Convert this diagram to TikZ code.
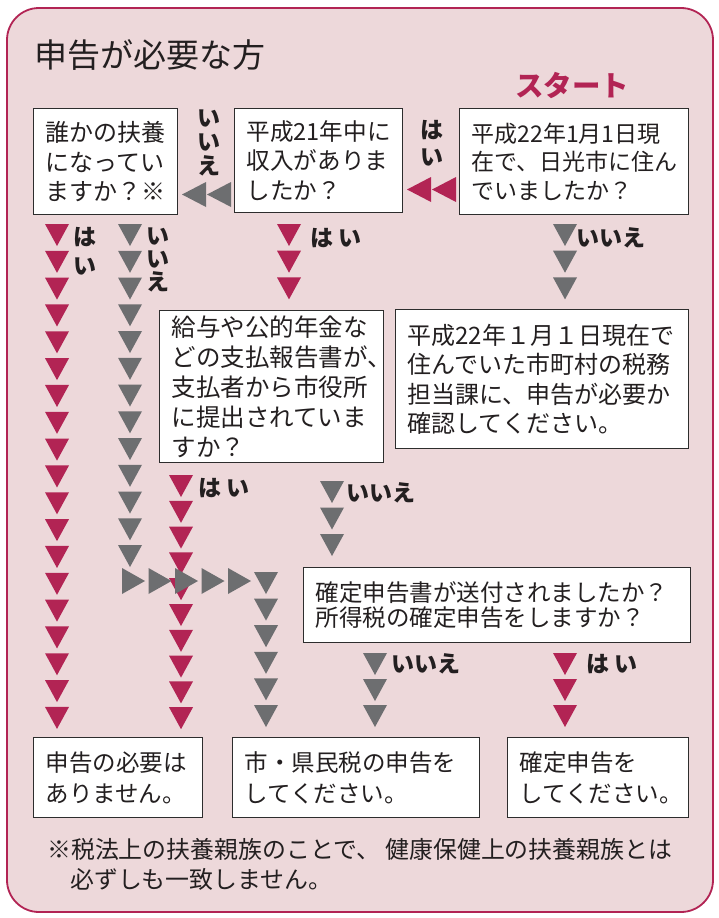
\documentclass[tikz,border=0pt]{standalone}
\usepackage{fontspec}
\setmainfont{Noto Sans CJK JP}
\definecolor{crim}{RGB}{178,36,84}
\definecolor{tgray}{RGB}{109,110,112}
\definecolor{bgpink}{RGB}{237,216,218}
\definecolor{txt}{RGB}{35,31,32}
\definecolor{boxline}{RGB}{45,45,45}
\newcommand\tridn[3]{\fill[#1] ({#2-12},{#3}) -- ++(24,0) -- ++(-12,22) -- cycle;}
\newcommand\trirt[3]{\fill[#1] ({#2},{#3-13}) -- ++(0,26) -- ++(23,-13) -- cycle;}
\newcommand\trilt[3]{\fill[#1] ({#2},{#3}) -- ++(24,-12.5) -- ++(0,25) -- cycle;}
\begin{document}
\begin{tikzpicture}[x=1pt,y=-1pt,
  box/.style={draw=boxline, line width=1.2pt, fill=white, anchor=north west, align=left,
    inner xsep=12pt, inner ysep=0pt, text=txt, font=\fontsize{24}{29.5}\selectfont},
  lbl/.style={inner sep=0pt, text=txt, align=center},
  lblfont/.style={font=\fontsize{23}{#1}\selectfont\bfseries}]
\useasboundingbox (0,0) rectangle (719,918);
\fill[white] (0,0) rectangle (719,918);
\draw[draw=crim, line width=1.8pt, fill=bgpink, rounded corners=32pt] (7,8) rectangle (713,912);

% title
\node[anchor=west, inner sep=0pt, text=txt, font=\fontsize{33}{33}\selectfont] (title) at (34,55) {申告が必要な方};
\node[inner sep=0pt, text=crim, font=\fontsize{28.5}{28.5}\selectfont\bfseries] (startlbl) at (572,85) {スタート};

% boxes
\node[box, font=\fontsize{23}{28.5}\selectfont, text width=205pt, minimum height=106pt] (start) at (459,108)
  {平成22年1月1日現\\在で、日光市に住ん\\でいましたか？};
\node[box, font=\fontsize{23.6}{29.5}\selectfont, text width=144pt, minimum height=104pt] (income) at (234,108)
  {平成21年中に\\収入がありま\\したか？};
\node[box, text width=120pt, minimum height=106pt] (fuyou) at (33,108)
  {誰かの扶養\\になってい\\ますか？※};
\node[box, font=\fontsize{24.5}{30}\selectfont, text width=200pt, minimum height=152pt] (shiharai) at (159,310)
  {給与や公的年金な\\どの支払報告書が、\\支払者から市役所\\に提出されていま\\すか？};
\node[box, text width=269pt, minimum height=139pt] (other) at (395,309)
  {平成22年１月１日現在で\\住んでいた市町村の税務\\担当課に、申告が必要か\\確認してください。};
\node[box, font=\fontsize{23.5}{25}\selectfont, text width=363pt, minimum height=75pt] (kakutei) at (303,567)
  {確定申告書が送付されましたか？\\所得税の確定申告をしますか？};
\node[box, font=\fontsize{23.5}{31}\selectfont, text width=145pt, minimum height=80pt] (none) at (33,737)
  {申告の必要は\\ありません。};
\node[box, font=\fontsize{23.5}{31}\selectfont, text width=223pt, minimum height=80pt] (shiken) at (232,737)
  {市・県民税の申告を\\してください。};
\node[box, font=\fontsize{23.5}{31}\selectfont, text width=157pt, minimum height=80pt] (kakuteido) at (507,737)
  {確定申告を\\してください。};

% footnote
\node[anchor=west, inner sep=0pt, align=left, text=txt, font=\fontsize{23.9}{30}\selectfont] (note) at (47,864)
  {※税法上の扶養親族のことで、 健康保健上の扶養親族とは\\\hspace*{23pt}必ずしも一致しません。};

% left arrows in top row
\trilt{crim}{407}{189.5}
\trilt{crim}{432}{189.5}
\trilt{tgray}{182}{194.5}
\trilt{tgray}{207}{194.5}

% columns
\foreach \i in {0,...,18}{\tridn{crim}{57}{224+\i*26.83}}
\foreach \i in {0,...,12}{\tridn{tgray}{130}{224+\i*26.75}}
\foreach \i in {0,...,2}{\tridn{crim}{289}{224+\i*26.7}}
\foreach \i in {0,...,2}{\tridn{tgray}{565}{224+\i*26.7}}
\foreach \i in {0,...,9}{\tridn{crim}{181}{475+\i*25.8}}
\foreach \i in {0,...,2}{\tridn{tgray}{332}{481+\i*26.5}}
\foreach \i in {0,...,4}{\trirt{tgray}{122+\i*26.5}{581}}
\foreach \i in {0,...,5}{\tridn{tgray}{266}{572+\i*26.6}}
\foreach \i in {0,...,2}{\tridn{tgray}{375}{653+\i*26}}
\foreach \i in {0,...,2}{\tridn{crim}{565}{653+\i*26}}

% labels
\node[lbl, lblfont=27] (l1) at (432,143.5) {は\\い};
\node[lbl, lblfont=24] (l2) at (209,143) {い\\い\\え};
\node[lbl, lblfont=29] (l3) at (85,251.5) {は\\い};
\node[lbl, lblfont=23] (l4) at (158,260) {い\\い\\え};
\node[lbl, lblfont=24] (l5) at (336,238) {は\hspace{5pt}い};
\node[lbl, lblfont=24] (l6) at (611,238) {いいえ};
\node[lbl, lblfont=24] (l7) at (224,488) {は\hspace{5pt}い};
\node[lbl, lblfont=24] (l8) at (381,493) {いいえ};
\node[lbl, lblfont=24] (l9) at (426,664) {いいえ};
\node[lbl, lblfont=24] (l10) at (612,664) {は\hspace{5pt}い};
\end{tikzpicture}
\end{document}
